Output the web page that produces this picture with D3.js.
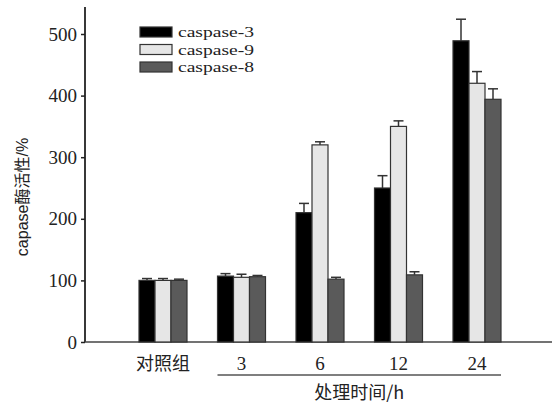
<!DOCTYPE html>
<html>
<head>
<meta charset="utf-8">
<script src="https://cdn.jsdelivr.net/npm/d3@7"></script>
<style>
  body { margin: 0; background: #fff; }
  svg text { fill: #222; }
</style>
</head>
<body>
<svg id="chart" width="552" height="405"></svg>
<script>
const groups = ["对照组", "3", "6", "12", "24"];
const series = ["caspase-3", "caspase-9", "caspase-8"];
const colors = ["#000000", "#e6e6e6", "#5a5a5a"];
// values per series, one entry per group
const casp3 = [100, 107, 210, 250, 489];
const casp9 = [100, 105, 320, 350, 420];
const casp8 = [100, 106, 102, 109, 394];
const err3 = [3, 4, 15, 20, 35];
const err9 = [3, 5, 5, 9, 19];
const err8 = [2, 2, 3, 5, 17];
const yTicks = [0, 100, 200, 300, 400, 500];

const values = [casp3, casp9, casp8];
const errors = [err3, err9, err8];
const data = [];
series.forEach((s, i) => {
  groups.forEach((g, j) => {
    data.push({ series: s, idx: i, group: g, value: values[i][j], err: errors[i][j] });
  });
});

const svg = d3.select("#chart");
const serif = "'Liberation Serif', 'Times New Roman', serif";
const cjk = "'Noto Sans CJK SC', sans-serif";

const y = d3.scaleLinear().domain([0, 500]).range([342, 34]);
const x = d3.scalePoint().domain(groups).range([163, 477]);
const xs = d3.scaleBand().domain(series).range([-24, 24]);

// axes
const yAxis = svg.append("g")
  .attr("transform", "translate(85,0)")
  .call(d3.axisLeft(y).tickValues(yTicks).tickSize(4).tickSizeOuter(0));
yAxis.select(".domain").remove();
yAxis.selectAll("line").attr("stroke", "#222").attr("stroke-width", 1.5);
yAxis.selectAll("text")
  .attr("x", -8)
  .style("font-family", serif)
  .style("font-size", "19px")
  .attr("fill", "#222");

svg.append("line")
  .attr("x1", 85).attr("x2", 85).attr("y1", 7).attr("y2", y(0))
  .attr("stroke", "#222").attr("stroke-width", 1.8);
svg.append("line")
  .attr("x1", 85).attr("x2", 552).attr("y1", y(0)).attr("y2", y(0))
  .attr("stroke", "#444").attr("stroke-width", 1.5);

// error bars
const eb = svg.append("g").attr("stroke", "#333").attr("stroke-width", 1.5);
eb.selectAll(".ev")
  .data(data)
  .join("line")
  .attr("x1", d => x(d.group) + xs(d.series) + xs.bandwidth() / 2)
  .attr("x2", d => x(d.group) + xs(d.series) + xs.bandwidth() / 2)
  .attr("y1", d => y(d.value))
  .attr("y2", d => y(d.value + d.err));
eb.selectAll(".ec")
  .data(data)
  .join("line")
  .attr("x1", d => x(d.group) + xs(d.series) + xs.bandwidth() / 2 - 5)
  .attr("x2", d => x(d.group) + xs(d.series) + xs.bandwidth() / 2 + 5)
  .attr("y1", d => y(d.value + d.err))
  .attr("y2", d => y(d.value + d.err));

// bars
svg.append("g")
  .selectAll("rect")
  .data(data)
  .join("rect")
  .attr("x", d => x(d.group) + xs(d.series))
  .attr("y", d => y(d.value))
  .attr("width", xs.bandwidth())
  .attr("height", d => y(0) - y(d.value))
  .attr("fill", d => colors[d.idx])
  .attr("stroke", "#333")
  .attr("stroke-width", 1.2);

// group labels
svg.append("g")
  .selectAll("text")
  .data(groups)
  .join("text")
  .attr("x", d => x(d))
  .attr("y", 370)
  .attr("text-anchor", "middle")
  .style("font-family", (d, i) => i === 0 ? cjk : serif)
  .style("font-size", (d, i) => i === 0 ? "18px" : "19px")
  .text(d => d);

// bracket under time groups
const x0 = x(groups[1]) - 24, x1 = x(groups[4]) + 24;
svg.append("line")
  .attr("x1", x0).attr("x2", x1).attr("y1", 375).attr("y2", 375)
  .attr("stroke", "#555").attr("stroke-width", 1.5);
svg.append("text")
  .attr("x", (x0 + x1) / 2)
  .attr("y", 399)
  .attr("text-anchor", "middle")
  .style("font-family", cjk)
  .style("font-size", "18px")
  .text("处理时间/h");

// y title
svg.append("text")
  .attr("transform", "translate(28,197) rotate(-90)")
  .attr("text-anchor", "middle")
  .style("font-family", "'Liberation Sans', " + cjk)
  .style("font-size", "16px")
  .text("capase酶活性/%");

// legend
const lg = svg.append("g").attr("transform", "translate(140,27)");
const row = lg.selectAll("g")
  .data(series)
  .join("g")
  .attr("transform", (d, i) => `translate(0,${i * 17.5})`);
row.append("rect")
  .attr("width", 32).attr("height", 10)
  .attr("fill", (d, i) => colors[i])
  .attr("stroke", "#333").attr("stroke-width", 1.2);
row.append("text")
  .attr("x", 38).attr("y", 10)
  .attr("textLength", 76)
  .attr("lengthAdjust", "spacingAndGlyphs")
  .style("font-family", serif)
  .style("font-size", "15.5px")
  .text(d => d);
</script>
</body>
</html>
